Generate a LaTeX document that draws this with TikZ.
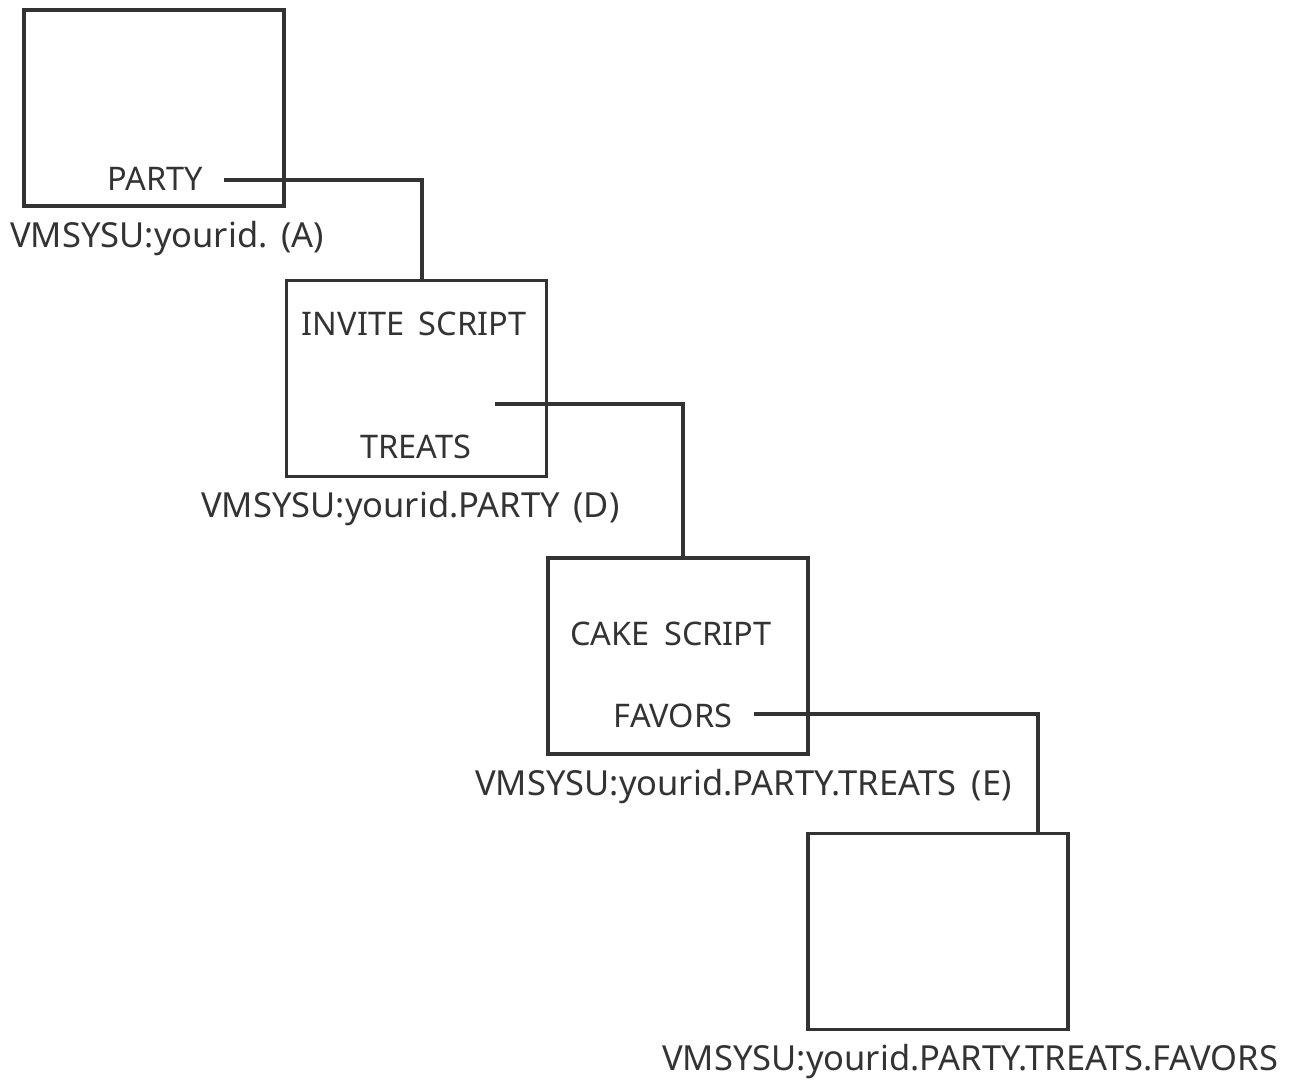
\documentclass[tikz,border=0pt]{standalone}
\usepackage{fontspec}
\setmainfont{Noto Sans}
\definecolor{ink}{HTML}{333333}
\begin{document}
\begin{tikzpicture}[x=1pt,y=-1pt,
  box/.style={draw=ink,line width=3.4pt,rectangle,inner sep=0pt,minimum width=260pt,minimum height=196pt},
  intext/.style={text=ink,font=\fontsize{32.5}{38}\selectfont,inner sep=0pt},
  pathlabel/.style={text=ink,font=\fontsize{34.5}{40}\selectfont,inner sep=0pt,anchor=west},
  link/.style={draw=ink,line width=3.4pt}]
\useasboundingbox (0,0) rectangle (1293,1083);
\node[box] (boxA) at (154,108) {};
\node[box] (boxD) at (416.5,378.5) {};
\node[box] (boxE) at (678,656) {};
\node[box] (boxF) at (938,931.5) {};
\node[intext] (party) at (155,179) {PARTY};
\node[intext] (invite) at (414,324) {INVITE\hspace{0.45em}SCRIPT};
\node[intext] (treats) at (416,447) {TREATS};
\node[intext] (cake) at (671,634) {CAKE\hspace{0.45em}SCRIPT};
\node[intext] (favors) at (673,716) {FAVORS};
\node[pathlabel] (labA) at (10,239) {VMSYSU:yourid.\hspace{0.4em}(A)};
\node[pathlabel] (labD) at (201,509) {VMSYSU:yourid.PARTY\hspace{0.4em}(D)};
\node[pathlabel] (labE) at (475,787) {VMSYSU:yourid.PARTY.TREATS\hspace{0.45em}(E)};
\node[pathlabel] (labF) at (662,1062) {VMSYSU:yourid.PARTY.TREATS.FAVORS};
\coordinate (sA) at (224,180);
\coordinate (tD) at (422,280);
\coordinate (sD) at (495,404);
\coordinate (tE) at (683,558);
\coordinate (sE) at (754,714);
\coordinate (tF) at (1038,833);
\draw[link] (sA) -| (tD);
\draw[link] (sD) -| (tE);
\draw[link] (sE) -| (tF);
\end{tikzpicture}
\end{document}
